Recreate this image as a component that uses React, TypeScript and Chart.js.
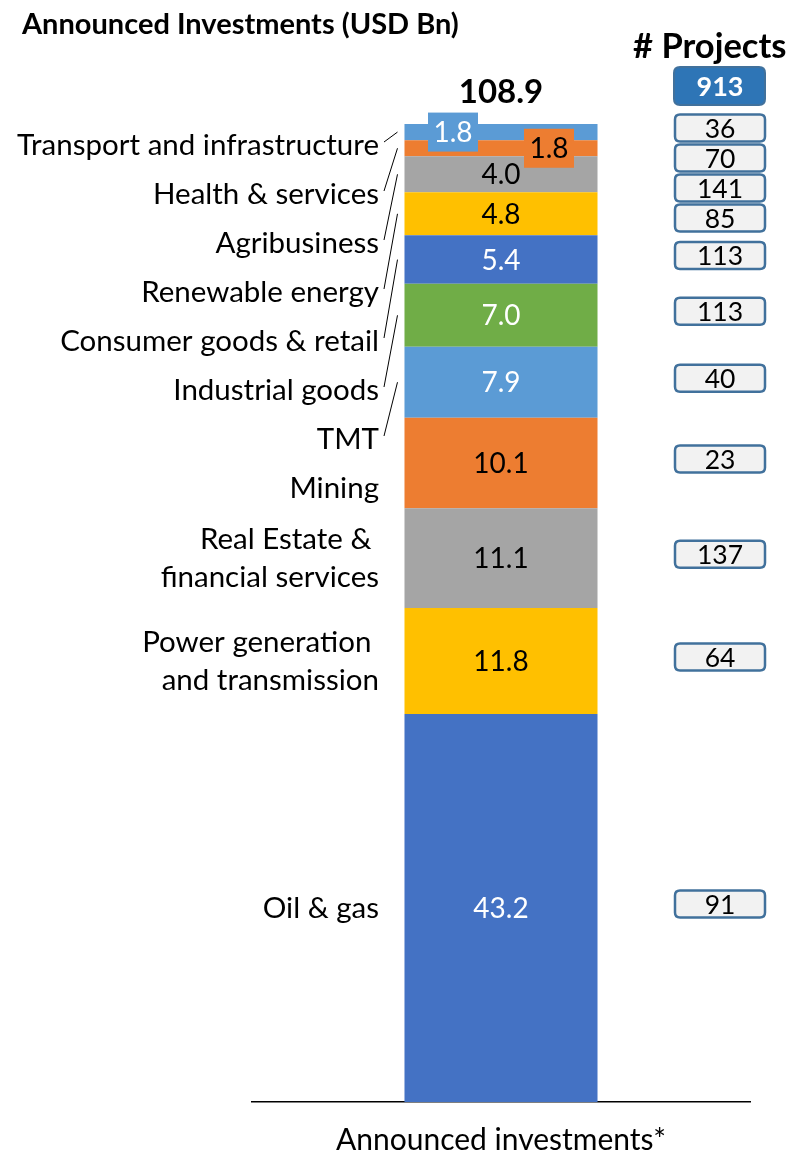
import React, { useEffect, useRef } from "react";
import { Chart, registerables } from "chart.js";

Chart.register(...registerables);

// ---- data (bottom of the stack first) ----
const categoryLabels: string[][] = [
  ["Oil & gas"],
  ["Power generation ", "and transmission"],
  ["Real Estate & ", "financial services"],
  ["Mining"],
  ["TMT"],
  ["Industrial goods"],
  ["Consumer goods & retail"],
  ["Renewable energy"],
  ["Agribusiness"],
  ["Health & services"],
  ["Transport and infrastructure"],
];
const investments: number[] = [43.2, 11.8, 11.1, 10.1, 7.9, 7.0, 5.4, 4.8, 4.0, 1.8, 1.8];
const projects: number[] = [91, 64, 137, 23, 40, 113, 113, 85, 141, 70, 36];
const totalInvestment = 108.9;
const totalProjects = 913;
const xCategory = ["Announced investments*"];

const segmentColors = [
  "#4472C4", "#FFC000", "#A5A5A5", "#ED7D31", "#5B9BD5", "#70AD47",
  "#4472C4", "#FFC000", "#A5A5A5", "#ED7D31", "#5B9BD5",
];
const whiteText = [true, false, false, false, true, true, true, false, false, false, true];

const FONT = "Lato, 'Noto Sans', sans-serif";

function roundRect(ctx: CanvasRenderingContext2D, x: number, y: number, w: number, h: number, r: number) {
  ctx.beginPath();
  ctx.moveTo(x + r, y);
  ctx.lineTo(x + w - r, y);
  ctx.quadraticCurveTo(x + w, y, x + w, y + r);
  ctx.lineTo(x + w, y + h - r);
  ctx.quadraticCurveTo(x + w, y + h, x + w - r, y + h);
  ctx.lineTo(x + r, y + h);
  ctx.quadraticCurveTo(x, y + h, x, y + h - r);
  ctx.lineTo(x, y + r);
  ctx.quadraticCurveTo(x, y, x + r, y);
  ctx.closePath();
}

const annotationPlugin = {
  id: "annotations",
  afterDatasetsDraw(chart: any) {
    const ctx: CanvasRenderingContext2D = chart.ctx;
    const area = chart.chartArea;
    const n = investments.length;
    const segs: { top: number; bottom: number; center: number; x: number }[] = [];
    for (let i = 0; i < n; i++) {
      const el = chart.getDatasetMeta(i).data[0];
      const top = Math.min(el.y, el.base);
      const bottom = Math.max(el.y, el.base);
      segs.push({ top, bottom, center: (top + bottom) / 2, x: el.x });
    }
    const barEl = chart.getDatasetMeta(0).data[0];
    const barLeft = barEl.x - barEl.width / 2;
    const barCenter = barEl.x;

    ctx.save();
    // ---- value labels ----
    ctx.textAlign = "center";
    ctx.textBaseline = "middle";
    ctx.font = `28px ${FONT}`;
    for (let i = 0; i < n; i++) {
      const s = segs[i];
      let tx = barCenter;
      if (i === n - 1 || i === n - 2) {
        const off = i === n - 1 ? -48 : 48;
        tx = barCenter + off;
        ctx.fillStyle = segmentColors[i];
        ctx.fillRect(tx - 25, s.center - 19.5, 50, 39);
      }
      ctx.fillStyle = whiteText[i] ? "#FFFFFF" : "#000000";
      ctx.fillText(investments[i].toFixed(1), tx, s.center + 1);
    }

    // ---- total ----
    ctx.font = `bold 33px ${FONT}`;
    ctx.fillStyle = "#000";
    ctx.fillText(totalInvestment.toFixed(1), barCenter, area.top - 32);

    // ---- category labels with leader lines ----
    const lineH = 38;
    ctx.font = `29.5px ${FONT}`;
    ctx.textAlign = "right";
    let prevY = area.top - 28;
    let prevH = lineH;
    const labelRight = 379;
    for (let i = n - 1; i >= 0; i--) {
      const lines = categoryLabels[i];
      const h = lines.length * lineH;
      const gap = (prevH + h) / 2 + 11;
      const y = Math.max(segs[i].center, prevY + gap);
      prevY = y;
      prevH = h;
      ctx.fillStyle = "#000";
      lines.forEach((ln, k) => {
        const ly = y - ((lines.length - 1) * lineH) / 2 + k * lineH;
        ctx.fillText(ln, labelRight, ly);
      });
      if (y < segs[i].top || y > segs[i].bottom) {
        ctx.strokeStyle = "#000";
        ctx.lineWidth = 1;
        ctx.beginPath();
        ctx.moveTo(384, y - 3);
        ctx.lineTo(barLeft - 7, segs[i].center);
        ctx.stroke();
      }
    }

    // ---- project count boxes ----
    const boxX = 675;
    const boxW = 90;
    ctx.textAlign = "center";
    let prevBox = -1e9;
    for (let i = n - 1; i >= 0; i--) {
      const y = Math.max(segs[i].center - 4, prevBox + 30);
      prevBox = y;
      roundRect(ctx, boxX, y - 13.5, boxW, 27, 5);
      ctx.fillStyle = "#F2F2F2";
      ctx.fill();
      ctx.strokeStyle = "#41719C";
      ctx.lineWidth = 2.5;
      ctx.stroke();
      ctx.fillStyle = "#000";
      ctx.font = `26.5px ${FONT}`;
      ctx.fillText(String(projects[i]), boxX + boxW / 2, y + 1);
    }
    // total projects
    roundRect(ctx, boxX - 1, 67, boxW + 1, 38, 6);
    ctx.fillStyle = "#2E75B6";
    ctx.fill();
    ctx.strokeStyle = "#41719C";
    ctx.lineWidth = 2;
    ctx.stroke();
    ctx.fillStyle = "#FFF";
    ctx.font = `bold 27px ${FONT}`;
    ctx.fillText(String(totalProjects), boxX + boxW / 2, 87);

    // ---- headings ----
    ctx.fillStyle = "#000";
    ctx.textAlign = "left";
    ctx.font = `bold 29px ${FONT}`;
    ctx.fillText("Announced Investments (USD Bn)", 22, 25);
    ctx.font = `bold 34.5px ${FONT}`;
    ctx.fillText("# Projects", 633, 47);
    ctx.restore();
  },
};

export default function App() {
  const canvasRef = useRef<HTMLCanvasElement | null>(null);
  useEffect(() => {
    if (!canvasRef.current) return;
    const chart = new Chart(canvasRef.current, {
      type: "bar",
      data: {
        labels: xCategory,
        datasets: investments.map((v, i) => ({
          label: categoryLabels[i].join(" "),
          data: [v],
          backgroundColor: segmentColors[i],
          borderWidth: 0,
          barPercentage: 0.3876,
          categoryPercentage: 1,
        })),
      },
      options: {
        responsive: false,
        animation: false,
        layout: { padding: { left: 252, right: 39, top: 124, bottom: -27 } },
        plugins: { legend: { display: false }, tooltip: { enabled: false }, title: { display: false } },
        scales: {
          x: {
            stacked: true,
            grid: { display: false, drawTicks: false },
            border: { display: true, color: "#000", width: 1.5 },
            ticks: {
              color: "#000",
              padding: 25,
              maxRotation: 0,
              font: { family: FONT, size: 30, lineHeight: 0.9 },
            },
          },
          y: { stacked: true, display: false, min: 0, max: totalInvestment },
        },
      },
      plugins: [annotationPlugin],
    });
    return () => chart.destroy();
  }, []);
  return (
    <div style={{ position: "fixed", left: 0, top: 0, width: 789, height: 1152, background: "#fff" }}>
      <canvas ref={canvasRef} width={789} height={1152} style={{ width: 789, height: 1152 }} />
    </div>
  );
}
